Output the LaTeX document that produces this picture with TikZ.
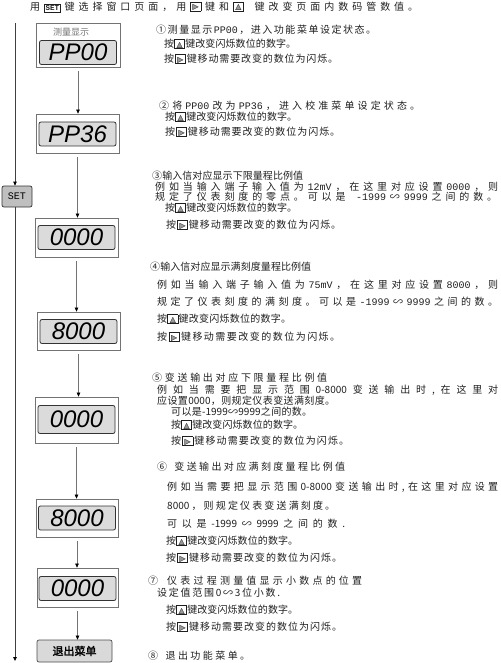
\documentclass[tikz,border=0pt]{standalone}
\usepackage{fontspec}
\usetikzlibrary{arrows.meta}
\setmainfont{Noto Sans CJK SC}
\newfontfamily\cjkb[FakeBold=2]{Noto Sans CJK SC}
\newfontfamily\lat{Liberation Mono}
\newfontfamily\dv{DejaVu Sans}
\newfontfamily\lcdf{Liberation Sans}
\makeatletter
\newcommand\spread[2]{\makebox[#1pt][s]{\def\sp@sep{}\@tfor\sp@x:=#2\do{\sp@sep{\sp@x}\def\sp@sep{\hskip 0pt plus 10pt minus 1.2pt\relax}}}}
\makeatother
\newcommand\keybox[1]{\raisebox{-0.8pt}{\setlength\fboxsep{0pt}\setlength\fboxrule{0.7pt}\fbox{\makebox[9.5pt]{\rule{0pt}{8.4pt}\raisebox{1.1pt}{\dv\fontsize{8}{8}\selectfont #1}}}}}
\newcommand\ukey{\keybox{\rlap{\textcolor{black!40}{▲}}△}}
\newcommand\rkey{\keybox{\rlap{\textcolor{black!40}{▶}}▷}}
\newcommand\setkey{\raisebox{-0.5pt}{\setlength\fboxsep{0.8pt}\setlength\fboxrule{0.7pt}\fbox{\lat\bfseries\fontsize{7.5}{7.5}\selectfont SET}}}
\begin{document}
\begin{tikzpicture}[x=1pt,y=-1pt,
  outer/.style={draw=black!55, line width=0.7pt, fill=white, inner sep=0pt},
  lcd/.style={draw=black!80, line width=0.8pt, fill=black!14, rounded corners=2pt, minimum width=77pt, minimum height=24pt, inner sep=0pt, font=\lcdf\itshape\fontsize{24}{24}\selectfont},
  con/.style={draw=black!55, line width=0.6pt, -{Triangle[length=4pt,width=3.5pt,color=black]}, shorten <=4pt},
  lft/.style={draw=black!75, line width=0.8pt, -{Triangle[length=4pt,width=3.5pt,color=black]}},
  setb/.style={draw=black!80, line width=0.7pt, fill=black!25, rounded corners=2pt, minimum width=30pt, minimum height=21pt, inner sep=0pt, font=\lat\fontsize{10}{10}\selectfont},
  exitb/.style={draw=black!70, line width=0.7pt, fill=black!15, rounded corners=2pt, minimum width=75pt, minimum height=22pt, inner sep=0pt, font=\cjkb\fontsize{11}{11}\selectfont},
  tx/.style={anchor=west, inner sep=0pt, font=\fontsize{10}{11}\selectfont, text=black!88}
]
\useasboundingbox (0,0) rectangle (500,663);
% left SET loop
\coordinate (L0) at (15,23);
\coordinate (L1) at (15,661);
\node[setb] (set) at (17,196.5) {SET};
\draw[lft] (L0) -- (L0 |- set.north);
\draw[lft] (set.south -| L0) -- (L1);
% display boxes
\node[outer, minimum width=84pt, minimum height=44pt] (b1) at (78,45) {};
\node[lcd] (d1) at (78,52.5) {PP00};
\node[font=\fontsize{9}{9}\selectfont, text=black!55, inner sep=0pt] (lab) at (71,32) {测量显示};
\node[outer, minimum width=83pt, minimum height=39pt] (b2) at (77.5,133.5) {};
\node[lcd] (d2) at (77.5,134) {PP36};
\node[outer, minimum width=83pt, minimum height=39pt] (b3) at (76.5,237.5) {};
\node[lcd] (d3) at (76.5,237.5) {0000};
\node[outer, minimum width=83pt, minimum height=38pt] (b4) at (78.5,331) {};
\node[lcd] (d4) at (78.5,331.5) {8000};
\node[outer, minimum width=83pt, minimum height=46pt] (b5) at (76.5,420) {};
\node[lcd, minimum height=28pt] (d5) at (76.5,419.5) {0000};
\node[outer, minimum width=82pt, minimum height=38pt] (b6) at (77,518) {};
\node[lcd] (d6) at (77,518) {8000};
\node[outer, minimum width=81pt, minimum height=39pt] (b7) at (77.5,587.5) {};
\node[lcd] (d7) at (77.5,588.5) {0000};
\node[exitb] (b8) at (74.5,651) {退出菜单};
% connectors
\draw[con] (b1.south) -- (b1.south |- b2.north);
\draw[con] (b2.south) -- (b2.south |- b3.north);
\draw[con] (b3.south) -- (b3.south |- b4.north);
\draw[con] (b4.south) -- (b4.south |- b5.north);
\draw[con] (b5.south) -- (b5.south |- b6.north);
\draw[con] (b6.south) -- (b6.south |- b7.north);
\draw[con] (b7.south) -- (b7.south |- b8.north);
% texts
\node[tx] (t0) at (30,7) {\spread{388}{用\setkey 键选择窗口页面，用\rkey 键和\ukey\ 键改变页面内数码管数值。}};
\node[tx] (t1) at (156,30) {\spread{220}{①测量显示{\lat PP00}，进入功能菜单设定状态。}};
\node[tx] (t1a) at (164,44) {\spread{132}{按\ukey 键改变闪烁数位的数字。}};
\node[tx] (t1b) at (164,59) {\spread{174}{按\rkey 键移动需要改变的数位为闪烁。}};
\node[tx] (t2) at (159,106) {\spread{261}{②将{\lat PP00}改为{\lat PP36}，进入校准菜单设定状态。}};
\node[tx] (t2a) at (165,117) {\spread{132}{按\ukey 键改变闪烁数位的数字。}};
\node[tx] (t2b) at (165,132) {\spread{175}{按\rkey 键移动需要改变的数位为闪烁。}};
\node[tx] (t3) at (152,176) {\spread{151}{③输入信对应显示下限量程比例值}};
\node[tx] (t3c) at (155,187) {\spread{343}{例如当输入端子输入值为{\lat 12mV}，在这里对应设置{\lat 0000}，则}};
\node[tx] (t3d) at (155,197) {\spread{342}{规定了仪表刻度的零点。可以是\ {\lat -1999}∽{\lat 9999}之间的数。}};
\node[tx] (t3a) at (165,208) {\spread{132}{按\ukey 键改变闪烁数位的数字。}};
\node[tx] (t3b) at (166,225) {\spread{175}{按\rkey 键移动需要改变的数位为闪烁。}};
\node[tx] (t4) at (150,267) {\spread{161}{④输入信对应显示满刻度量程比例值}};
\node[tx] (t4c) at (157,285) {\spread{341}{例如当输入端子输入值为{\lat 75mV}，在这里对应设置{\lat 8000}，则}};
\node[tx] (t4d) at (157,302) {\spread{341}{规定了仪表刻度的满刻度。可以是{\lat -1999}∽{\lat 9999}之间的数。}};
\node[tx] (t4a) at (157,319) {\spread{134}{按\ukey 键改变闪烁数位的数字。}};
\node[tx] (t4b) at (157,337) {\spread{183}{按\rkey 键移动需要改变的数位为闪烁。}};
\node[tx] (t5) at (152,378) {\spread{175}{⑤变送输出对应下限量程比例值}};
\node[tx] (t5c) at (157,390) {\spread{341}{例如当需要把显示范围{0-8000}变送输出时,在这里对}};
\node[tx] (t5d) at (157,401) {\spread{178}{应设置{0000}，则规定仪表变送满刻度。}};
\node[tx] (t5e) at (171,412) {\spread{141}{可以是{-1999}∽{9999}之间的数。}};
\node[tx] (t5a) at (171,425) {\spread{132}{按\ukey 键改变闪烁数位的数字。}};
\node[tx] (t5b) at (171,441) {\spread{178}{按\rkey 键移动需要改变的数位为闪烁。}};
\node[tx] (t6) at (157,467) {\spread{188}{⑥\ 变送输出对应满刻度量程比例值}};
\node[tx] (t6c) at (167,487) {\spread{331}{例如当需要把显示范围{0-8000}变送输出时,在这里对应设置}};
\node[tx] (t6d) at (167,506) {\spread{168}{{8000}，则规定仪表变送满刻度。}};
\node[tx] (t6e) at (167,524) {\spread{178}{可以是{-1999}∽{9999}之间的数.}};
\node[tx] (t6a) at (166,541) {\spread{132}{按\ukey 键改变闪烁数位的数字。}};
\node[tx] (t6b) at (166,558) {\spread{176}{按\rkey 键移动需要改变的数位为闪烁。}};
\node[tx] (t7) at (148,581) {\spread{214}{⑦\ 仪表过程测量值显示小数点的位置}};
\node[tx] (t7c) at (157,593) {\spread{123}{设定值范围0∽3位小数.}};
\node[tx] (t7a) at (166,610) {\spread{132}{按\ukey 键改变闪烁数位的数字。}};
\node[tx] (t7b) at (166,627) {\spread{176}{按\rkey 键移动需要改变的数位为闪烁。}};
\node[tx] (t8) at (148,656) {\spread{102}{⑧\ 退出功能菜单。}};
\end{tikzpicture}
\end{document}
